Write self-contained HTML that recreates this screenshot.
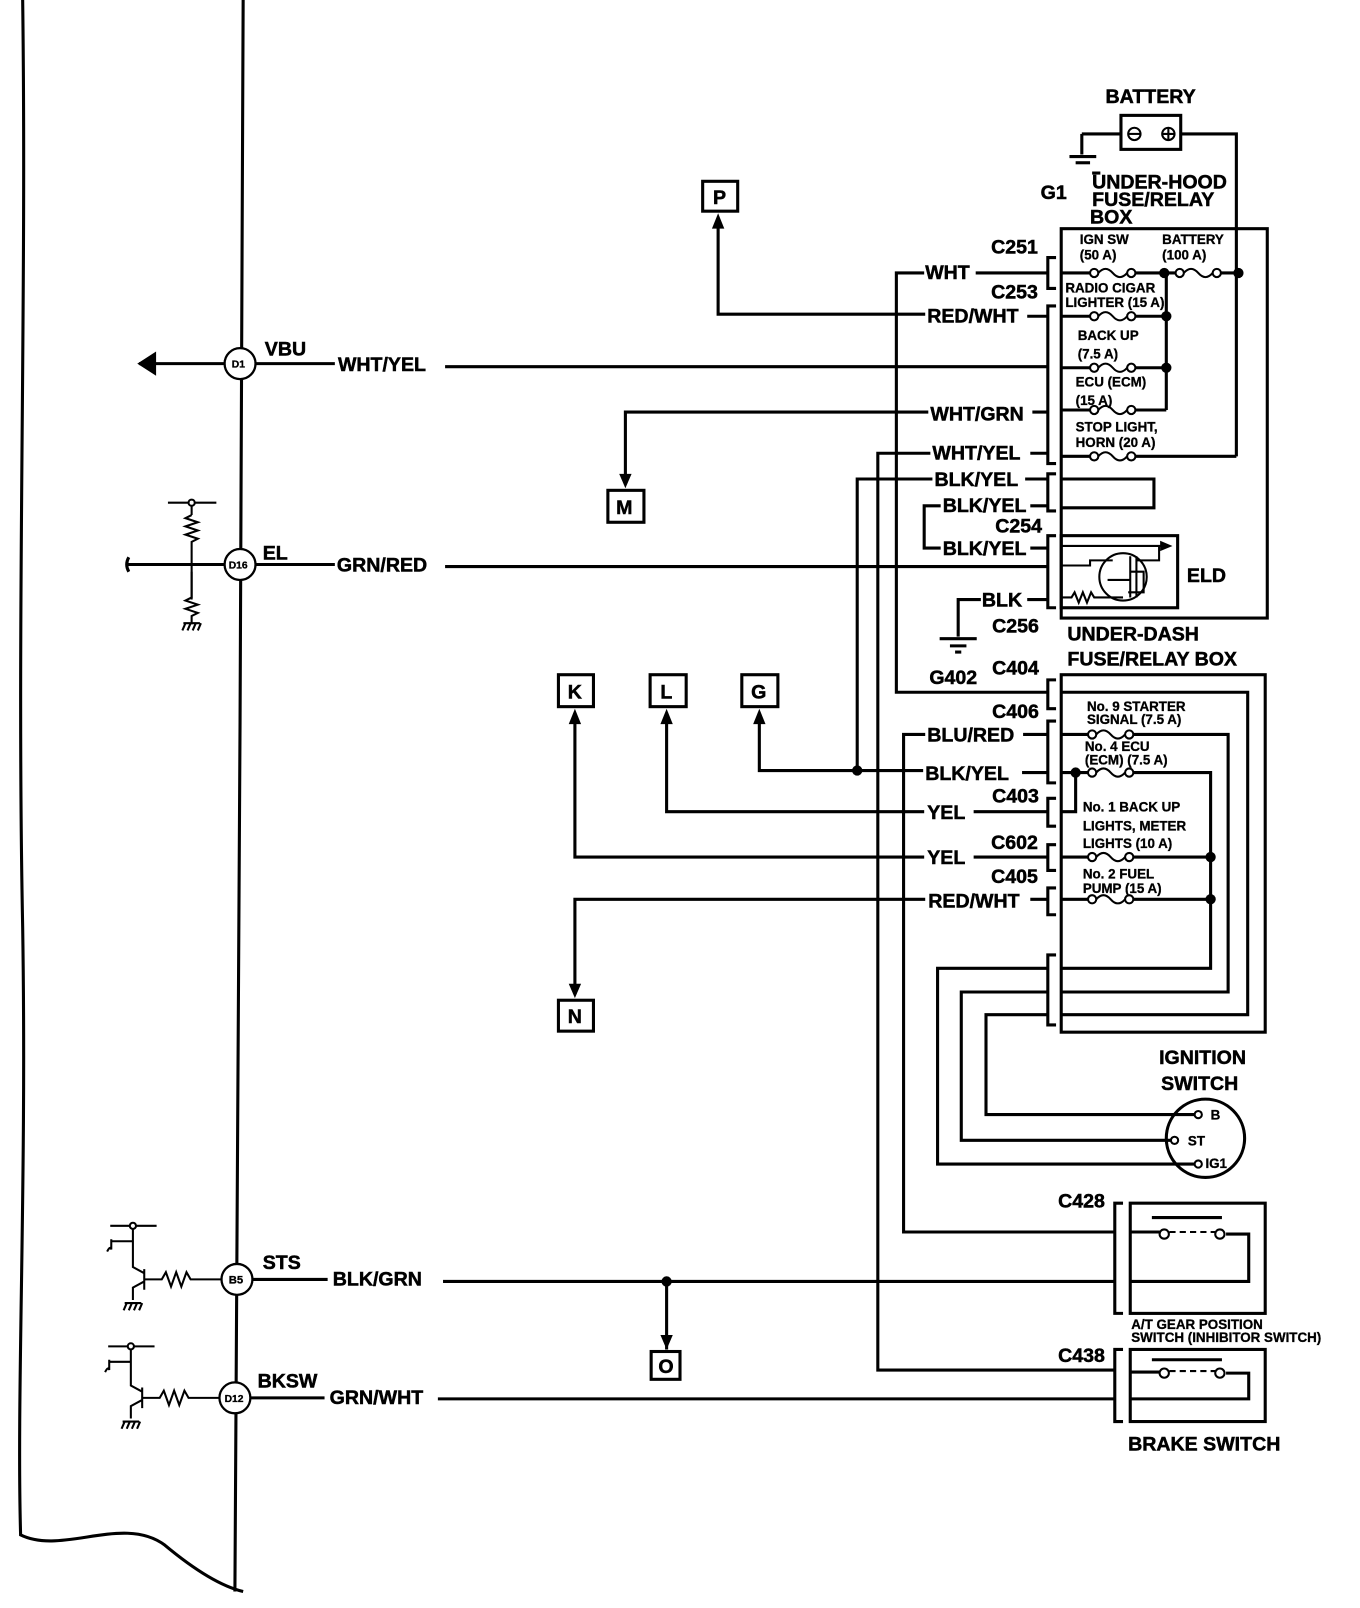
<!DOCTYPE html>
<html><head><meta charset="utf-8"><style>
html,body{margin:0;padding:0;background:#fff}
svg{display:block}
text{font-family:"Liberation Sans",sans-serif;font-weight:bold;fill:#000;stroke:#000;stroke-width:0.5}
.l{font-size:19px}
.s{font-size:13px}
.s text{stroke-width:0.3}
</style></head><body>
<svg width="1360" height="1608" viewBox="0 0 1320 1561" preserveAspectRatio="none" xmlns="http://www.w3.org/2000/svg">
<defs>
<g id="f"><rect x="4" y="-3" width="28" height="6" fill="#fff" stroke="none"/><path d="M4,0 q7,-8 14,0 q7,8 14,0" fill="none" stroke="#000" stroke-width="2"/><circle cx="0" cy="0" r="4" fill="#fff" stroke="#000" stroke-width="2"/><circle cx="36" cy="0" r="4" fill="#fff" stroke="#000" stroke-width="2"/></g>
<g id="gnd"><line x1="-8" y1="0" x2="8" y2="0"/><line x1="-6" y1="0" x2="-9" y2="7"/><line x1="-1" y1="0" x2="-4" y2="7"/><line x1="4" y1="0" x2="1" y2="7"/><line x1="9" y1="0" x2="6" y2="7"/></g>
</defs>
<g fill="none" stroke="#000" stroke-width="3">
<path d="M22,0 C26,300 16,600 22,900 C26,1150 16,1350 20,1490 C60,1510 120,1470 160,1500 C190,1525 215,1540 236,1545"/>
<path d="M236,0 L233,700 L228,1545"/>
<line x1="135" y1="353" x2="218" y2="353"/>
<polygon points="136,353 150,344 150,362" fill="#000"/>
<line x1="248" y1="353" x2="325" y2="353"/>
<line x1="432" y1="356" x2="1017" y2="356"/>
<line x1="122" y1="548" x2="218" y2="548"/>
<path d="M125,541 q-4,7 0,14"/>
<line x1="248" y1="548" x2="325" y2="548"/>
<line x1="432" y1="550" x2="1017" y2="550"/>
<line x1="163" y1="488" x2="210" y2="488" stroke-width="2"/>
<line x1="186" y1="488" x2="186" y2="500" stroke-width="2"/>
<path d="M186,500 l-6,3 l12,4 l-12,4 l12,4 l-12,4 l12,4 l-6,3 L186,580 l-6,3 l12,4 l-12,4 l12,4 l-6,3 l0,8" stroke-width="2"/>
<line x1="186" y1="555" x2="186" y2="582" stroke-width="2"/>
<use href="#gnd" x="186" y="605" stroke-width="2"/>
<line x1="107" y1="1190" x2="152" y2="1190" stroke-width="2"/>
<path d="M129,1190 L129,1230 L140,1236 M140,1232 L140,1252 M140,1244 L129,1250 L129,1262" stroke-width="2"/>
<path d="M104,1215 q3,-6 4,-2 L108,1203 M108,1205 L129,1205" stroke-width="2"/>
<path d="M140,1242 L157,1242 l4,-7 l5,14 l5,-14 l5,14 l5,-14 l4,7 L215,1242" stroke-width="2"/>
<use href="#gnd" x="129" y="1265" stroke-width="2"/>
<line x1="245" y1="1242" x2="318" y2="1242"/>
<line x1="430" y1="1244" x2="1082" y2="1244"/>
<line x1="105" y1="1307" x2="150" y2="1307" stroke-width="2"/>
<path d="M127,1307 L127,1345 L138,1351 M138,1347 L138,1367 M138,1359 L127,1365 L127,1377" stroke-width="2"/>
<path d="M102,1332 q3,-6 4,-2 L106,1320 M106,1322 L127,1322" stroke-width="2"/>
<path d="M138,1357 L155,1357 l4,-7 l5,14 l5,-14 l5,14 l5,-14 l4,7 L213,1357" stroke-width="2"/>
<use href="#gnd" x="127" y="1380" stroke-width="2"/>
<line x1="243" y1="1357" x2="315" y2="1357"/>
<line x1="425" y1="1358" x2="1082" y2="1358"/>
<line x1="647" y1="1244" x2="647" y2="1310"/>
<rect x="1088" y="112" width="58" height="33"/>
<line x1="1088" y1="130" x2="1050" y2="130"/>
<line x1="1050" y1="130" x2="1050" y2="150"/>
<line x1="1038" y1="152" x2="1064" y2="152"/>
<line x1="1044" y1="158" x2="1058" y2="158"/>
<line x1="1060" y1="168" x2="1068" y2="168"/>
<path d="M1146,130 L1200,130 L1200,443"/>
<rect x="1030" y="222" width="200" height="378"/>
<line x1="1030" y1="265" x2="1202" y2="265"/>
<line x1="1030" y1="307" x2="1132" y2="307"/>
<line x1="1132" y1="265" x2="1132" y2="398"/>
<line x1="1030" y1="357" x2="1132" y2="357"/>
<line x1="1030" y1="398" x2="1132" y2="398"/>
<line x1="1030" y1="443" x2="1200" y2="443"/>
<path d="M1030,465 L1120,465 L1120,493 L1030,493"/>
<rect x="1030" y="520" width="113" height="70"/>
<line x1="1030" y1="530" x2="1128" y2="530" stroke-width="2"/>
<polygon points="1138,530 1126,525 1126,535" fill="#000" stroke="none"/>
<circle cx="1090" cy="560" r="23" stroke-width="2"/>
<path d="M1030,549 L1058,549 L1058,544 L1080,544 M1097,540 L1097,580 M1103,540 L1103,580 M1075,563 L1097,563 M1103,544 L1125,544 L1125,530 M1097,555 L1110,555 L1110,575 L1095,575" stroke-width="2"/>
<path d="M1030,580 L1040,580 l3,-5 l4,10 l4,-10 l4,10 l4,-10 l3,5 L1090,580" stroke-width="2"/>
<path d="M1025,250 L1017,250 L1017,280 L1025,280"/>
<path d="M1025,297 L1017,297 L1017,450 L1025,450"/>
<path d="M1025,460 L1017,460 L1017,496 L1025,496"/>
<path d="M1025,520 L1017,520 L1017,590 L1025,590"/>
<path d="M1025,660 L1017,660 L1017,688 L1025,688"/>
<path d="M1025,700 L1017,700 L1017,760 L1025,760"/>
<path d="M1025,775 L1017,775 L1017,802 L1025,802"/>
<path d="M1025,820 L1017,820 L1017,845 L1025,845"/>
<path d="M1025,862 L1017,862 L1017,888 L1025,888"/>
<path d="M1025,927 L1017,927 L1017,995 L1025,995"/>
<path d="M1017,265 L947,265 M897,265 L870,265 L870,672 L1017,672"/>
<path d="M1017,307 L997,307 M898,305 L697,305 L697,212"/>
<path d="M1017,400 L1002,400 M901,400 L607,400 L607,470"/>
<path d="M1017,440 L1000,440 M903,440 L852,440 L852,1330 L1082,1330"/>
<path d="M1017,465 L995,465 M905,465 L832,465 L832,748"/>
<path d="M1017,491 L1000,491 M913,491 L897,491 L897,532 L913,532 M1000,532 L1017,532"/>
<path d="M1017,582 L997,582 M952,582 L930,582 L930,618"/>
<line x1="912" y1="620" x2="948" y2="620"/>
<line x1="922" y1="627" x2="938" y2="627"/>
<line x1="927" y1="633" x2="933" y2="633"/>
<rect x="1030" y="655" width="198" height="347"/>
<path d="M1030,672 L1211,672 L1211,985 L1030,985"/>
<path d="M1030,713 L1192,713 L1192,963 L1030,963"/>
<path d="M1030,750 L1175,750 L1175,940 L1030,940"/>
<path d="M1044,750 L1044,788 L1030,788"/>
<line x1="1030" y1="832" x2="1175" y2="832"/>
<line x1="1030" y1="873" x2="1175" y2="873"/>
<path d="M1017,713 L993,713 M898,713 L877,713 L877,1196 L1082,1196"/>
<path d="M1017,750 L992,750 M896,748 L737,748 L737,692"/>
<path d="M1017,788 L945,788 M897,788 L647,788 L647,692"/>
<path d="M1017,832 L945,832 M897,832 L558,832 L558,692"/>
<path d="M1017,873 L1000,873 M898,873 L558,873 L558,965"/>
<path d="M1017,985 L957,985 L957,1082 L1160,1082"/>
<path d="M1017,963 L933,963 L933,1107 L1137,1107"/>
<path d="M1017,940 L910,940 L910,1130 L1160,1130"/>
<circle cx="1170" cy="1105" r="38"/>
<path d="M1090,1168 L1082,1168 L1082,1275 L1090,1275"/>
<rect x="1097" y="1168" width="131" height="107"/>
<line x1="1118" y1="1182" x2="1186" y2="1182"/>
<line x1="1135" y1="1196" x2="1180" y2="1196" stroke-dasharray="6,4" stroke-width="2"/>
<path d="M1097,1196 L1126,1196 M1190,1198 L1212,1198 L1212,1244 L1097,1244"/>
<path d="M1090,1310 L1082,1310 L1082,1380 L1090,1380"/>
<rect x="1097" y="1310" width="131" height="70"/>
<line x1="1118" y1="1320" x2="1186" y2="1320"/>
<line x1="1135" y1="1331" x2="1180" y2="1331" stroke-dasharray="6,4" stroke-width="2"/>
<path d="M1097,1332 L1126,1332 M1190,1333 L1212,1333 L1212,1358 L1097,1358"/>
<rect x="682" y="176" width="34" height="29"/>
<rect x="590" y="476" width="35" height="31"/>
<rect x="542" y="655" width="34" height="31"/>
<rect x="631" y="655" width="35" height="31"/>
<rect x="720" y="655" width="35" height="31"/>
<rect x="542" y="971" width="34" height="30"/>
<rect x="632" y="1312" width="28" height="27"/>
</g>
<g fill="#000">
<polygon points="697,207 691,222 703,222"/>
<polygon points="607,474 601,460 613,460"/>
<polygon points="737,688 731,703 743,703"/>
<polygon points="647,688 641,703 653,703"/>
<polygon points="558,688 552,703 564,703"/>
<polygon points="558,969 552,955 564,955"/>
<polygon points="647,1310 641,1296 653,1296"/>
<circle cx="1130" cy="265" r="5"/><circle cx="1202" cy="265" r="5"/>
<circle cx="1132" cy="307" r="5"/><circle cx="1132" cy="357" r="5"/>
<circle cx="832" cy="748" r="5"/><circle cx="1044" cy="750" r="5"/>
<circle cx="1175" cy="832" r="5"/><circle cx="1175" cy="873" r="5"/>
<circle cx="647" cy="1244" r="5"/>
</g>
<g fill="#fff" stroke="#000" stroke-width="2">
<circle cx="186" cy="488" r="3"/><circle cx="129" cy="1190" r="3"/><circle cx="127" cy="1307" r="3"/>
<circle cx="1101" cy="130" r="6"/><circle cx="1134" cy="130" r="6"/>
<circle cx="1163" cy="1082" r="3.5"/><circle cx="1140" cy="1107" r="3.5"/><circle cx="1163" cy="1130" r="3.5"/>
<circle cx="1130" cy="1198" r="4.5"/><circle cx="1184" cy="1198" r="4.5"/>
<circle cx="1130" cy="1333" r="4.5"/><circle cx="1184" cy="1333" r="4.5"/>
</g>
<g stroke="#000" stroke-width="2.2" fill="#fff">
<circle cx="233" cy="353" r="15"/><circle cx="233" cy="548" r="15"/>
<circle cx="230" cy="1242" r="15"/><circle cx="228" cy="1357" r="15"/>
</g>
<line x1="1095" y1="130" x2="1107" y2="130" stroke="#000" stroke-width="2"/>
<path d="M1128,130 h12 M1134,124 v12" stroke="#000" stroke-width="2"/>
<use href="#f" x="1062" y="265"/><use href="#f" x="1145" y="265"/>
<use href="#f" x="1062" y="307"/><use href="#f" x="1062" y="357"/>
<use href="#f" x="1062" y="398"/><use href="#f" x="1062" y="443"/>
<use href="#f" x="1060" y="713"/><use href="#f" x="1060" y="750"/>
<use href="#f" x="1060" y="832"/><use href="#f" x="1060" y="873"/>
<g class="s">
<text x="225" y="357" font-size="10">D1</text>
<text x="222" y="552" font-size="10">D16</text>
<text x="222" y="1246" font-size="11">B5</text>
<text x="218" y="1361" font-size="10">D12</text>
</g>
<g class="l">
<text x="257" y="345">VBU</text><text x="328" y="360">WHT/YEL</text>
<text x="255" y="543">EL</text><text x="327" y="555">GRN/RED</text>
<text x="255" y="1232">STS</text><text x="323" y="1248">BLK/GRN</text>
<text x="250" y="1347">BKSW</text><text x="320" y="1363">GRN/WHT</text>
<text x="1073" y="100">BATTERY</text>
<text x="1010" y="193">G1</text>
<text x="1060" y="183">UNDER-HOOD</text>
<text x="1060" y="200">FUSE/RELAY</text>
<text x="1058" y="217">BOX</text>
<text x="962" y="246">C251</text><text x="962" y="290">C253</text>
<text x="898" y="271">WHT</text><text x="900" y="313">RED/WHT</text>
<text x="903" y="408">WHT/GRN</text><text x="905" y="446">WHT/YEL</text>
<text x="907" y="472">BLK/YEL</text><text x="915" y="497">BLK/YEL</text>
<text x="966" y="517">C254</text><text x="915" y="539">BLK/YEL</text>
<text x="1152" y="565">ELD</text>
<text x="953" y="589">BLK</text><text x="963" y="614">C256</text>
<text x="1036" y="622">UNDER-DASH</text><text x="1036" y="646">FUSE/RELAY BOX</text>
<text x="902" y="664">G402</text><text x="963" y="655">C404</text>
<text x="963" y="697">C406</text><text x="900" y="720">BLU/RED</text>
<text x="898" y="757">BLK/YEL</text><text x="963" y="779">C403</text>
<text x="900" y="795">YEL</text><text x="962" y="824">C602</text>
<text x="900" y="839">YEL</text><text x="962" y="857">C405</text>
<text x="901" y="881">RED/WHT</text>
<text x="1125" y="1033">IGNITION</text><text x="1127" y="1058">SWITCH</text>
<text x="1027" y="1172">C428</text><text x="1027" y="1322">C438</text>
<text x="1095" y="1408">BRAKE SWITCH</text>
<text x="692" y="198">P</text><text x="598" y="499">M</text>
<text x="551" y="678">K</text><text x="641" y="678">L</text><text x="729" y="678">G</text>
<text x="551" y="993">N</text><text x="639" y="1333">O</text>
</g>
<g class="s">
<text x="1048" y="237">IGN SW</text><text x="1048" y="252">(50 A)</text>
<text x="1128" y="237">BATTERY</text><text x="1128" y="252">(100 A)</text>
<text x="1034" y="284">RADIO CIGAR</text><text x="1034" y="298">LIGHTER (15 A)</text>
<text x="1046" y="330">BACK UP</text><text x="1046" y="348">(7.5 A)</text>
<text x="1044" y="375">ECU (ECM)</text><text x="1044" y="393">(15 A)</text>
<text x="1044" y="419">STOP LIGHT,</text><text x="1044" y="434">HORN (20 A)</text>
<text x="1055" y="690">No. 9 STARTER</text><text x="1055" y="703">SIGNAL (7.5 A)</text>
<text x="1053" y="729">No. 4 ECU</text><text x="1053" y="742">(ECM) (7.5 A)</text>
<text x="1051" y="788">No. 1 BACK UP</text><text x="1051" y="806">LIGHTS, METER</text><text x="1051" y="823">LIGHTS (10 A)</text>
<text x="1051" y="853">No. 2 FUEL</text><text x="1051" y="867">PUMP (15 A)</text>
<text x="1175" y="1087">B</text><text x="1153" y="1112">ST</text><text x="1170" y="1134">IG1</text>
<text x="1098" y="1290">A/T GEAR POSITION</text><text x="1098" y="1303">SWITCH (INHIBITOR SWITCH)</text>
</g>
</svg>
</body></html>
